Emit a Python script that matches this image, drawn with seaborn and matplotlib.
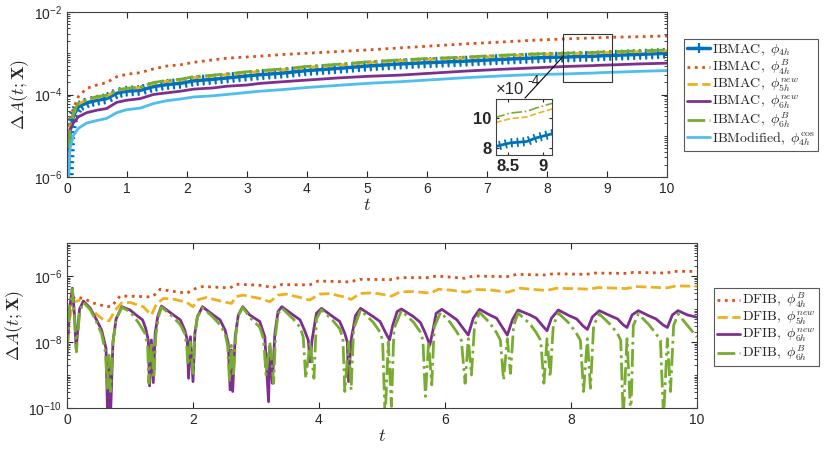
import numpy as np
import matplotlib
matplotlib.use('Agg')
import matplotlib.pyplot as plt
import matplotlib.patheffects as pe
import seaborn as sns
from matplotlib.ticker import LogLocator, FixedLocator, FuncFormatter, NullFormatter
from matplotlib.patches import Rectangle
from matplotlib.lines import Line2D

# ---------------- top panel: log10(Delta A) ----------------
t_top = [0.02, 0.05, 0.11, 0.19, 0.33, 0.5, 0.66, 0.83, 0.99, 1.22, 1.44, 1.66, 1.89,
         2.11, 2.44, 2.66, 3.0, 3.22, 3.6, 4.0, 4.5, 5.0, 5.55, 6.0, 6.67, 7.22, 7.7,
         8.0, 8.33, 8.53, 8.77, 8.9, 9.12, 9.5, 10.0]

ibmac_4h = [-6.0, -4.9, -4.5, -4.30, -4.20, -4.14, -4.10, -3.97, -3.92, -3.90, -3.81, -3.76, -3.73,
            -3.67, -3.63, -3.60, -3.55, -3.52, -3.48, -3.42, -3.37, -3.31, -3.26, -3.23, -3.19, -3.15, -3.12,
            -3.10, -3.091, -3.079, -3.074, -3.062, -3.049, -3.03, -3.00]
ibmac_4h_B = [-5.3, -4.57, -4.33, -4.05, -3.85, -3.77, -3.71, -3.57, -3.51, -3.47, -3.38, -3.31, -3.28,
              -3.22, -3.16, -3.12, -3.09, -3.07, -3.03, -3.00, -2.96, -2.92, -2.87, -2.83, -2.77, -2.73, -2.69,
              -2.67, -2.65, -2.64, -2.63, -2.62, -2.61, -2.60, -2.58]
ibmac_5h_new = [-6.0, -4.80, -4.45, -4.23, -4.13, -4.07, -4.04, -3.90, -3.86, -3.83, -3.73, -3.68, -3.65,
                -3.59, -3.55, -3.52, -3.47, -3.44, -3.40, -3.34, -3.29, -3.23, -3.18, -3.15, -3.11, -3.07, -3.04,
                -3.02, -3.013, -3.002, -2.997, -2.988, -2.975, -2.96, -2.935]
ibmac_6h_new = [-6.0, -4.85, -4.68, -4.54, -4.44, -4.38, -4.34, -4.19, -4.14, -4.10, -4.00, -3.96, -3.92,
                -3.87, -3.84, -3.80, -3.77, -3.73, -3.69, -3.65, -3.60, -3.56, -3.53, -3.49, -3.43, -3.39, -3.36,
                -3.34, -3.32, -3.31, -3.30, -3.29, -3.28, -3.26, -3.24]
ibmac_6h_B = [-6.0, -4.74, -4.42, -4.21, -4.12, -4.05, -4.02, -3.89, -3.85, -3.82, -3.71, -3.66, -3.63,
              -3.57, -3.53, -3.50, -3.45, -3.42, -3.38, -3.32, -3.27, -3.21, -3.16, -3.13, -3.09, -3.05, -3.02,
              -3.01, -2.998, -2.986, -2.981, -2.972, -2.960, -2.945, -2.92]
ibmod_4h_cos = [-6.1, -5.3, -4.98, -4.82, -4.69, -4.63, -4.58, -4.44, -4.37, -4.33, -4.22, -4.15, -4.11,
                -4.06, -4.03, -4.00, -3.95, -3.92, -3.88, -3.83, -3.78, -3.73, -3.69, -3.65, -3.59, -3.55, -3.52,
                -3.51, -3.50, -3.49, -3.48, -3.47, -3.46, -3.44, -3.42]

# ---------------- bottom panel: log10(Delta A) ----------------
t_dfib_4h_B = [0.0, 0.03, 0.08, 0.13, 0.26, 0.42, 0.63, 0.71, 0.84, 1.0, 1.29, 1.37, 1.48, 1.63,
               1.9, 2.06, 2.16, 2.59, 2.69, 3.06, 3.27, 3.4, 3.85, 3.99, 4.49, 4.65, 5.13, 5.29,
               5.71, 5.87, 6.32, 6.45, 6.98, 7.14, 7.61, 7.72, 8.24, 8.38, 8.88, 8.99, 9.52, 9.62, 10.0]
dfib_4h_B = [-8.0, -7.2, -6.7, -6.63, -6.68, -6.82, -6.93, -6.92, -6.61, -6.61, -6.63, -6.61, -6.40, -6.45,
             -6.52, -6.36, -6.32, -6.36, -6.25, -6.28, -6.35, -6.26, -6.27, -6.15, -6.18, -6.10, -6.11, -6.05,
             -6.05, -6.00, -6.07, -6.00, -6.02, -5.95, -5.97, -5.93, -5.95, -5.91, -5.92, -5.89, -5.91, -5.86, -5.86]

t_dfib_5h_new = [0.0, 0.04, 0.1, 0.2, 0.3, 0.42, 0.58, 0.67, 0.76, 0.87, 1.0, 1.21, 1.34, 1.42, 1.53,
                 1.69, 1.9, 2.0, 2.08, 2.21, 2.48, 2.61, 2.69, 2.8, 3.06, 3.22, 3.35, 3.48, 3.7, 3.85,
                 4.01, 4.17, 4.43, 4.51, 4.65, 4.86, 5.08, 5.15, 5.29, 5.5, 5.77, 5.9, 6.1, 6.34, 6.5,
                 6.71, 7.0, 7.19, 7.61, 7.77, 8.19, 8.29, 8.43, 8.88, 9.04, 9.52, 9.68, 10.0]
dfib_5h_new = [-8.2, -7.3, -6.8, -6.73, -6.85, -7.08, -7.33, -7.36, -7.05, -6.81, -6.80, -6.93, -7.18, -6.85, -6.68,
               -6.70, -6.80, -6.93, -6.72, -6.65, -6.78, -6.83, -6.62, -6.58, -6.68, -6.78, -6.58, -6.55, -6.65, -6.73,
               -6.55, -6.53, -6.65, -6.71, -6.53, -6.51, -6.58, -6.61, -6.48, -6.47, -6.52, -6.40, -6.43, -6.49, -6.41,
               -6.42, -6.49, -6.37, -6.44, -6.37, -6.39, -6.40, -6.35, -6.38, -6.32, -6.36, -6.30, -6.31]

t_dfib_6h_new = [0.0, 0.04, 0.085, 0.12, 0.145, 0.2, 0.26, 0.37, 0.47, 0.55, 0.62, 0.645, 0.665, 0.69, 0.73,
                 0.78, 0.87, 1.0, 1.13, 1.2, 1.25, 1.29, 1.31, 1.34, 1.37, 1.4, 1.44, 1.5, 1.69, 1.8,
                 1.87, 1.91, 1.93, 1.96, 2.0, 2.03, 2.07, 2.15, 2.32, 2.43, 2.51, 2.56, 2.59, 2.61, 2.63,
                 2.67, 2.72, 2.79, 2.9, 3.06, 3.14, 3.2, 3.22, 3.26, 3.3, 3.35, 3.41, 3.59, 3.7, 3.77,
                 3.83, 3.86, 3.89, 3.96, 4.04, 4.22, 4.33, 4.41, 4.45, 4.47, 4.51, 4.58, 4.66, 4.86, 4.97,
                 5.05, 5.12, 5.17, 5.24, 5.31, 5.5, 5.61, 5.69, 5.76, 5.81, 5.86, 5.95, 6.08, 6.19, 6.27,
                 6.37, 6.45, 6.55, 6.71, 6.82, 6.91, 6.99, 7.07, 7.16, 7.35, 7.45, 7.55, 7.62, 7.69, 7.8,
                 7.98, 8.09, 8.19, 8.26, 8.34, 8.45, 8.63, 8.74, 8.83, 8.89, 8.97, 9.07, 9.24, 9.35, 9.46,
                 9.53, 9.61, 9.7, 9.85, 10.0]
dfib_6h_new = [-8.4, -7.0, -6.37, -7.2, -8.2, -7.0, -6.76, -6.98, -7.33, -7.64, -8.2, -10.3, -8.6, -10.3, -8.0,
               -7.3, -6.93, -7.03, -7.23, -7.33, -7.59, -7.94, -9.33, -7.94, -9.23, -7.74, -7.23, -6.91, -7.18, -7.33,
               -7.64, -7.94, -9.1, -7.84, -9.2, -7.74, -7.23, -6.93, -7.18, -7.33, -7.64, -8.04, -9.45, -8.24, -9.5,
               -7.84, -7.18, -6.93, -7.18, -7.38, -7.84, -9.81, -8.14, -9.25, -7.74, -7.08, -6.93, -7.18, -7.33, -7.64,
               -7.94, -8.6, -7.94, -7.13, -6.98, -7.23, -7.38, -7.74, -8.0, -9.2, -7.94, -7.2, -6.98, -7.23, -7.38,
               -7.69, -7.94, -7.5, -7.08, -7.0, -7.23, -7.41, -7.74, -8.09, -7.64, -7.13, -7.01, -7.18, -7.33, -7.54,
               -7.79, -7.28, -7.01, -7.18, -7.28, -7.55, -7.79, -7.33, -7.03, -7.18, -7.28, -7.51, -7.66, -7.28, -7.03,
               -7.21, -7.30, -7.51, -7.62, -7.24, -7.05, -7.21, -7.30, -7.48, -7.56, -7.18, -7.05, -7.21, -7.30, -7.48,
               -7.56, -7.18, -7.05, -7.18, -7.25]

t_dfib_6h_B = [0.0, 0.04, 0.085, 0.12, 0.15, 0.2, 0.26, 0.37, 0.47, 0.55, 0.61, 0.64, 0.665, 0.69, 0.73,
               0.78, 0.87, 1.0, 1.13, 1.24, 1.28, 1.30, 1.34, 1.38, 1.41, 1.45, 1.5, 1.69, 1.8, 1.87,
               1.90, 1.92, 1.96, 2.0, 2.03, 2.07, 2.15, 2.32, 2.43, 2.51, 2.55, 2.58, 2.61, 2.64, 2.68,
               2.72, 2.79, 2.9, 3.06, 3.12, 3.16, 3.22, 3.28, 3.31, 3.35, 3.41, 3.59, 3.7, 3.75, 3.79,
               3.86, 3.92, 3.96, 4.04, 4.22, 4.33, 4.38, 4.41, 4.47, 4.51, 4.55, 4.66, 4.86, 4.97, 5.01,
               5.05, 5.1, 5.15, 5.19, 5.31, 5.5, 5.61, 5.65, 5.69, 5.74, 5.79, 5.83, 5.93, 6.08, 6.19,
               6.26, 6.32, 6.37, 6.42, 6.47, 6.55, 6.71, 6.82, 6.88, 6.93, 6.99, 7.04, 7.09, 7.16, 7.35,
               7.45, 7.52, 7.57, 7.62, 7.67, 7.72, 7.8, 7.98, 8.09, 8.15, 8.2, 8.26, 8.31, 8.36, 8.45,
               8.63, 8.74, 8.79, 8.83, 8.89, 8.95, 8.99, 9.07, 9.24, 9.35, 9.42, 9.47, 9.53, 9.58, 9.63,
               9.7, 9.85, 10.0]
dfib_6h_B = [-8.3, -7.0, -6.40, -7.3, -8.3, -7.1, -6.80, -7.02, -7.40, -7.75, -8.3, -9.4, -8.4, -9.5, -8.0,
             -7.3, -6.95, -7.08, -7.40, -7.74, -8.1, -9.25, -8.0, -9.1, -7.8, -7.25, -6.94, -7.25, -7.48, -7.75,
             -8.1, -8.7, -8.0, -8.95, -7.8, -7.25, -6.96, -7.25, -7.48, -7.75, -8.1, -9.2, -8.1, -9.05, -7.8,
             -7.2, -6.95, -7.25, -7.55, -7.9, -9.0, -8.0, -9.25, -7.8, -7.15, -6.97, -7.3, -7.55, -7.85, -9.1,
             -8.0, -9.1, -7.3, -7.02, -7.35, -7.6, -7.9, -9.5, -8.0, -9.45, -7.6, -7.03, -7.4, -7.7, -7.95,
             -10.3, -8.0, -9.95, -7.6, -7.05, -7.4, -7.7, -7.95, -9.65, -8.0, -9.3, -7.55, -7.1, -7.4, -7.7,
             -7.95, -9.25, -7.9, -9.0, -7.5, -7.1, -7.42, -7.72, -7.95, -9.15, -7.9, -8.95, -7.5, -7.12, -7.45,
             -7.72, -7.95, -9.25, -7.9, -9.05, -7.5, -7.12, -7.45, -7.75, -7.95, -9.5, -7.9, -9.4, -7.5, -7.15,
             -7.48, -7.75, -7.95, -10.3, -7.9, -10.3, -7.5, -7.15, -7.48, -7.75, -7.95, -10.3, -7.9, -9.5, -7.5,
             -7.15, -7.5, -7.85]

# MATLAB default colours
c_blue, c_orange, c_yellow = '#0072BD', '#D95319', '#EDB120'
c_purple, c_green, c_lblue = '#7E2F8E', '#77AC30', '#4DBEEE'

sns.set_style('ticks')
plt.rcParams['font.family'] = ['Liberation Sans', 'DejaVu Sans']
plt.rcParams['mathtext.fontset'] = 'cm'
plt.rcParams['xtick.direction'] = 'in'
plt.rcParams['ytick.direction'] = 'in'
plt.rcParams['xtick.top'] = True
plt.rcParams['ytick.right'] = True
plt.rcParams['axes.edgecolor'] = '0.25'
plt.rcParams['xtick.color'] = '0.15'
plt.rcParams['ytick.color'] = '0.15'
plt.rcParams['axes.linewidth'] = 0.8


def plus_marks(spacing, size, width):
    # '+' marks stamped along the line: ticks on both sides of the path
    return [pe.TickedStroke(spacing=spacing, angle=90, length=size, linewidth=width),
            pe.TickedStroke(spacing=spacing, angle=-90, length=size, linewidth=width),
            pe.Normal()]


fig = plt.figure(figsize=(8.3, 4.55), dpi=100)
ax_top = fig.add_axes([0.0807, 0.611, 0.7229, 0.3626])
ax_bot = fig.add_axes([0.0807, 0.1033, 0.759, 0.3626])
ax_in = fig.add_axes([0.5976, 0.6593, 0.0675, 0.1231])

top_series = [
    (ibmac_4h, r'$\mathrm{IBMAC},\ \phi_{4h}$', dict(color=c_blue, lw=2.5, ls='-')),
    (ibmac_4h_B, r'$\mathrm{IBMAC},\ \phi_{4h}^{B}$', dict(color=c_orange, lw=2, ls=':')),
    (ibmac_5h_new, r'$\mathrm{IBMAC},\ \phi_{5h}^{new}$', dict(color=c_yellow, lw=2, ls='--')),
    (ibmac_6h_new, r'$\mathrm{IBMAC},\ \phi_{6h}^{new}$', dict(color=c_purple, lw=2, ls='-')),
    (ibmac_6h_B, r'$\mathrm{IBMAC},\ \phi_{6h}^{B}$', dict(color=c_green, lw=2, ls='-.')),
    (ibmod_4h_cos, r'$\mathrm{IBModified},\ \phi_{4h}^{\cos}$', dict(color=c_lblue, lw=2, ls='-')),
]

for i, (vals, lab, st) in enumerate(top_series):
    y = 10 ** np.array(vals)
    kw = dict(st)
    kw_in = dict(st)
    kw_in['lw'] = 1.2
    if i == 0:
        kw['path_effects'] = plus_marks(4.3, 0.75, 1.6)
        kw_in['lw'] = 2
        kw_in['path_effects'] = plus_marks(4.3, 0.65, 1.3)
    sns.lineplot(x=t_top, y=y, ax=ax_top, label=lab, sort=False, estimator=None, **kw)
    sns.lineplot(x=t_top, y=y, ax=ax_in, sort=False, estimator=None, legend=False, **kw_in)

bot_series = [
    (t_dfib_4h_B, dfib_4h_B, r'$\mathrm{DFIB},\ \phi_{4h}^{B}$', dict(color=c_orange, lw=2, ls=':')),
    (t_dfib_5h_new, dfib_5h_new, r'$\mathrm{DFIB},\ \phi_{5h}^{new}$', dict(color=c_yellow, lw=2, ls='--')),
    (t_dfib_6h_new, dfib_6h_new, r'$\mathrm{DFIB},\ \phi_{6h}^{new}$', dict(color=c_purple, lw=2, ls='-')),
    (t_dfib_6h_B, dfib_6h_B, r'$\mathrm{DFIB},\ \phi_{6h}^{B}$', dict(color=c_green, lw=2, ls='-.')),
]
for tt, vals, lab, st in bot_series:
    sns.lineplot(x=tt, y=10 ** np.array(vals), ax=ax_bot, label=lab, sort=False, estimator=None, **st)

ylab = r'$\Delta A(t;\mathbf{X})$'
for ax, ylim, majors, xstep in [(ax_top, (1e-6, 1e-2), [1e-6, 1e-4, 1e-2], 1),
                                 (ax_bot, (1e-10, 1e-5), [1e-10, 1e-8, 1e-6], 2)]:
    ax.set_yscale('log')
    ax.set_xlim(0, 10)
    ax.set_ylim(*ylim)
    ax.set_xticks(np.arange(0, 11, xstep))
    ax.yaxis.set_major_locator(FixedLocator(majors))
    ax.yaxis.set_minor_locator(LogLocator(base=10, subs=np.arange(1, 10), numticks=30))
    ax.yaxis.set_minor_formatter(NullFormatter())
    ax.tick_params(labelsize=10, length=4)
    ax.tick_params(which='minor', length=2)
    ax.set_xlabel(r'$t$', fontsize=13, labelpad=1)
    ax.set_ylabel(ylab, fontsize=13, labelpad=2)
    for sp in ax.spines.values():
        sp.set_visible(True)

leg_kw = dict(fontsize=10, frameon=True, fancybox=False, framealpha=1, edgecolor='0.35',
              handlelength=1.7, handletextpad=0.15, labelspacing=0.0, borderpad=0.2,
              borderaxespad=0, loc='upper left', bbox_transform=fig.transFigure)
lg = ax_top.legend(bbox_to_anchor=(0.824, 0.914), **leg_kw)
lg.get_frame().set_linewidth(0.8)
h = lg.legend_handles[0]
h.set_path_effects([])
h.set_marker('+')
h.set_markersize(7)
h.set_markeredgewidth(1.6)
h.set_markeredgecolor(c_blue)
lg = ax_bot.legend(bbox_to_anchor=(0.860, 0.367), **leg_kw)
lg.get_frame().set_linewidth(0.8)

# zoom inset
ax_in.set_xlim(8.33, 9.13)
ax_in.set_ylim(7.53e-4, 11.27e-4)
ax_in.set_xticks([8.5, 9])
ax_in.set_yticks([8e-4, 10e-4])
ax_in.xaxis.set_major_formatter(FuncFormatter(lambda v, p: f'{v:g}'))
ax_in.yaxis.set_major_formatter(FuncFormatter(lambda v, p: f'{v * 1e4:g}'))
ax_in.tick_params(labelsize=12, length=2, pad=3)
for lbl in ax_in.get_xticklabels() + ax_in.get_yticklabels():
    lbl.set_fontweight('bold')
ax_in.set_xlabel('')
ax_in.set_ylabel('')
for sp in ax_in.spines.values():
    sp.set_visible(True)
ax_in.text(0.0, 1.03, '×10', transform=ax_in.transAxes, fontsize=12,
           ha='left', va='bottom')
ax_in.text(0.56, 1.2, '-4', transform=ax_in.transAxes, fontsize=10,
           ha='left', va='bottom')

# box on the main axes and pointer to the inset
ax_top.add_patch(Rectangle((0.827, 0.576), 0.081, 0.291, transform=ax_top.transAxes,
                           fill=False, lw=0.8, ec='0.2', zorder=5))
fig.add_artist(Line2D([0.678, 0.6325], [0.875, 0.7846], transform=fig.transFigure,
                      color='k', lw=0.8))

fig.savefig('out.png', dpi=100)
